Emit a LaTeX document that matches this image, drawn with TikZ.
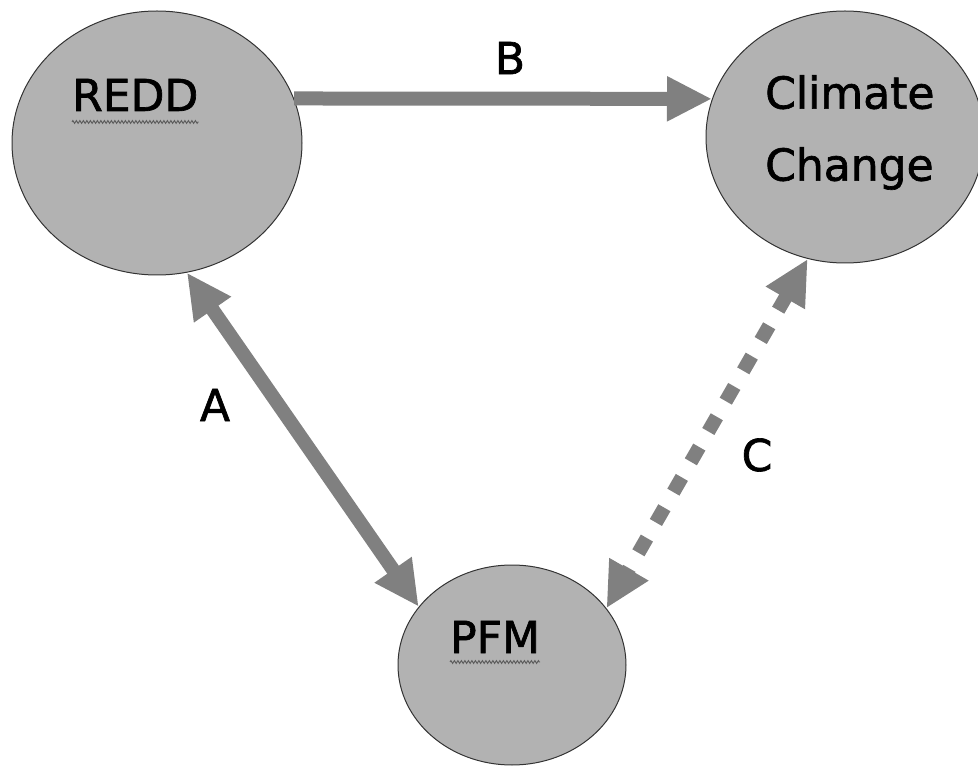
\documentclass[tikz,border=0pt]{standalone}
\usepackage{fontspec}
\setmainfont[FakeBold=1.5]{DejaVu Sans}
\usetikzlibrary{shapes.geometric, arrows.meta, decorations.pathmorphing}

\begin{document}
\begin{tikzpicture}[x=1pt, y=-1pt]

\tikzset{vertex/.style = {shape=ellipse, draw=black!80, line width=1pt, fill=black!30, inner sep=0pt}}
\tikzset{edge/.style = {draw=black!50, line width=14pt, > = {Triangle[length=45pt,width=42pt]}}}
\tikzset{word/.style = {font=\fontsize{44}{72}\selectfont, inner sep=0pt}}
\tikzset{squiggle/.style = {draw=black!65, line width=0.9pt, decorate, decoration={zigzag, segment length=3.5pt, amplitude=1.4pt}}}

\useasboundingbox (0,0) rectangle (978,767);

% vertices
\node[vertex, minimum width=290pt, minimum height=264pt] (redd) at (157,143) {};
\node[vertex, minimum width=278pt, minimum height=252pt] (climate) at (845,137) {};
\node[vertex, minimum width=228pt, minimum height=200pt] (pfm) at (512,665) {};

\node[word, anchor=base west] (reddtext) at (72,111) {REDD};
\node[word, anchor=north west, align=left] (climatetext) at (765,75) {Climate\\Change};
\node[word, anchor=base west] (pfmtext) at (450,653) {PFM};

\draw[squiggle] ([yshift=-11pt]reddtext.base west) -- ([yshift=-11pt]reddtext.base east);
\draw[squiggle] ([yshift=-9pt]pfmtext.base west) -- ([yshift=-9pt]pfmtext.base east);

%edges
\draw[edge, ->] (redd.18) -- (climate.164);
\draw[edge, <->] (redd.-77) -- (pfm.148);
\draw[edge, <->, dash pattern=on 17pt off 18pt] (climate.-107) -- (pfm.31);

\node[word] (labelb) at (510,58) {B};
\node[word] (labela) at (215,405) {A};
\node[word] (labelc) at (757,455) {C};

\end{tikzpicture}
\end{document}
